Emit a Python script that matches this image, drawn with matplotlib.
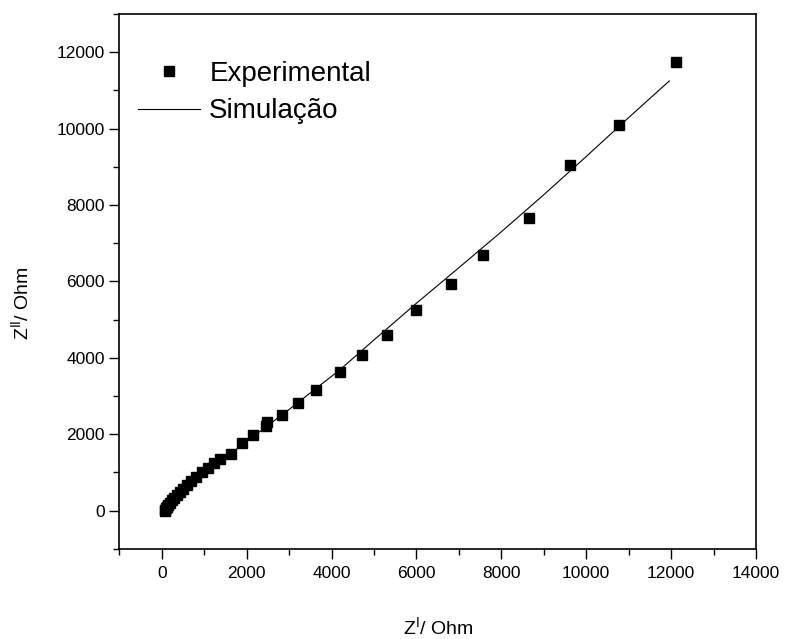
import matplotlib
matplotlib.use("Agg")
import matplotlib.pyplot as plt
from matplotlib.ticker import MultipleLocator

plt.rcParams['font.family'] = ['Liberation Sans', 'DejaVu Sans']
plt.rcParams['mathtext.default'] = 'regular'

# Nyquist data: real part Z' and imaginary part -Z'' (Ohm)
z_real_exp = [12110, 10780, 9630, 8660, 7560, 6820, 6000, 5310, 4720, 4200,
              3640, 3220, 2830, 2470, 2460, 2160, 1880, 1630, 1370, 1230,
              1080, 940, 800, 690, 590, 500, 420, 350, 290, 240,
              190, 150, 120, 95, 75, 65]
z_imag_exp = [11740, 10100, 9040, 7670, 6690, 5940, 5250, 4600, 4080, 3630,
              3160, 2820, 2510, 2330, 2220, 1970, 1770, 1480, 1360, 1260,
              1130, 1000, 880, 790, 680, 580, 490, 410, 340, 270,
              210, 150, 100, 60, 25, 5]

# fitted equivalent circuit
z_real_sim = [50, 100, 200, 350, 550, 800, 1100, 1500, 2000, 2500, 3000,
              3600, 4200, 5000, 6000, 7000, 8000, 9000, 10000, 11000, 11960]
z_imag_sim = [0, 90, 220, 380, 570, 790, 1050, 1390, 1810, 2230, 2650,
              3170, 3690, 4470, 5430, 6360, 7300, 8270, 9270, 10290, 11250]

fig = plt.figure(figsize=(7.85, 6.39), dpi=100)
ax = fig.add_axes([0.152, 0.141, 0.811, 0.837])

ax.plot(z_real_exp, z_imag_exp, linestyle='none', marker='s', markersize=7,
        color='black', label='Experimental')
ax.plot(z_real_sim, z_imag_sim, color='black', linewidth=0.8, label='Simulação')

ax.set_xlim(-1000, 14000)
ax.set_ylim(-1000, 13000)
ax.xaxis.set_major_locator(MultipleLocator(2000))
ax.xaxis.set_minor_locator(MultipleLocator(1000))
ax.yaxis.set_major_locator(MultipleLocator(2000))
ax.yaxis.set_minor_locator(MultipleLocator(1000))

ax.tick_params(which='both', direction='out', top=False, right=False, width=1.0)
ax.tick_params(which='major', length=7, labelsize=12.5)
ax.tick_params(which='minor', length=4)
ax.tick_params(axis='x', which='major', pad=5)
for s in ax.spines.values():
    s.set_linewidth(1.2)

ax.set_xlabel('Z$^{I}$/ Ohm', fontsize=14)
ax.set_ylabel('Z$^{II}$/ Ohm', fontsize=14)
ax.xaxis.set_label_coords(0.5, -0.125)
ax.yaxis.set_label_coords(-0.137, 0.46)

ax.legend(loc='upper left', bbox_to_anchor=(0.03, 0.912), frameon=False,
          fontsize=20, handlelength=2.2, handletextpad=0.35,
          labelspacing=0.4, borderaxespad=0, borderpad=0)

fig.savefig('out.png', dpi=100)
